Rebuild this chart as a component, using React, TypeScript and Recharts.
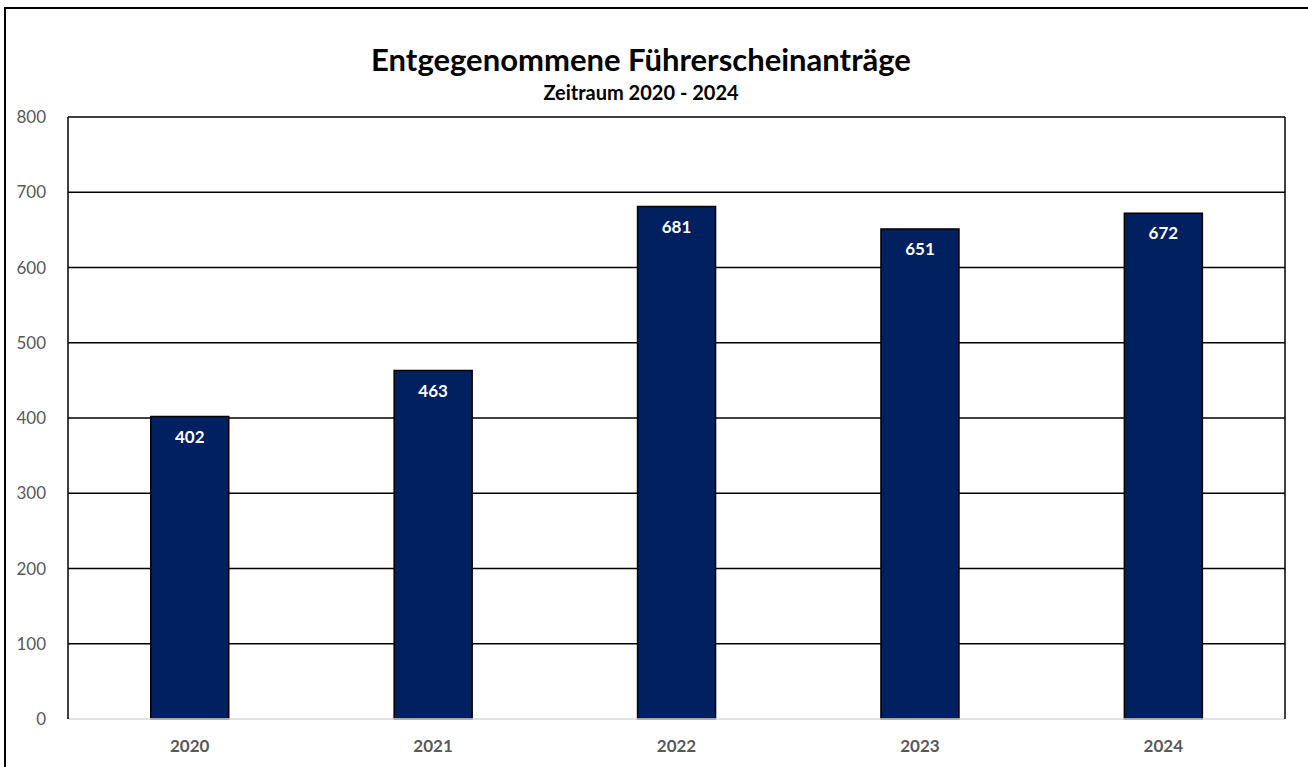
import { BarChart, Bar, XAxis, YAxis, CartesianGrid, LabelList } from 'recharts';

const years = ['2020', '2021', '2022', '2023', '2024'];
const applications = [402, 463, 681, 651, 672];
const yTicks = [0, 100, 200, 300, 400, 500, 600, 700, 800];
// gridlines above the baseline; the baseline itself is the grey x axis line
const gridValues = [100, 200, 300, 400, 500, 600, 700, 800];

const chartData = years.map((year, i) => ({ year, value: applications[i] }));

const FONT = 'Lato, "Open Sans", sans-serif';

export default function App() {
  return (
    <div
      style={{
        position: 'absolute',
        left: 0,
        top: 0,
        width: 1308,
        height: 767,
        overflow: 'hidden',
        background: '#fff',
        fontFamily: FONT,
      }}
    >
      {/* outer frame, clipped on the right and bottom like the original */}
      <div
        style={{
          position: 'absolute',
          left: 4,
          top: 7,
          width: 1340,
          height: 800,
          border: '2.5px solid #000',
          boxSizing: 'border-box',
        }}
      />
      <div
        style={{
          position: 'absolute',
          left: 0,
          width: 1282,
          top: 41,
          lineHeight: '36px',
          textAlign: 'center',
          fontWeight: 700,
          fontSize: 31,
          color: '#000',
        }}
      >
        Entgegenommene Führerscheinanträge
      </div>
      <div
        style={{
          position: 'absolute',
          left: 0,
          width: 1282,
          top: 80,
          lineHeight: '24px',
          textAlign: 'center',
          fontWeight: 700,
          fontSize: 20,
          color: '#000',
        }}
      >
        Zeitraum 2020 - 2024
      </div>
      <BarChart
        width={1308}
        height={767}
        data={chartData}
        margin={{ top: 117, right: 22, left: 0, bottom: 0 }}
        barCategoryGap="34%"
        style={{ position: 'absolute', left: 0, top: 0 }}
      >
        <CartesianGrid
          yAxisId="left"
          vertical={false}
          horizontalValues={gridValues}
          stroke="#000"
          strokeWidth={1.5}
        />
        <XAxis
          dataKey="year"
          height={48}
          axisLine={{ stroke: '#d9d9d9', strokeWidth: 1.5 }}
          tickLine={false}
          tickMargin={15}
          tick={{ fill: '#595959', fontSize: 17, fontWeight: 700, fontFamily: FONT }}
        />
        <YAxis
          yAxisId="left"
          width={68}
          domain={[0, 800]}
          ticks={yTicks}
          interval={0}
          axisLine={{ stroke: '#000', strokeWidth: 1.5 }}
          tickLine={false}
          tickMargin={16}
          tick={{ fill: '#595959', fontSize: 17, fontFamily: FONT }}
        />
        <YAxis
          yAxisId="right"
          orientation="right"
          width={1}
          domain={[0, 800]}
          ticks={yTicks}
          axisLine={{ stroke: '#000', strokeWidth: 1.5 }}
          tickLine={false}
          tick={false}
        />
        <Bar
          yAxisId="left"
          dataKey="value"
          fill="#002060"
          stroke="#000"
          strokeWidth={1.5}
          isAnimationActive={false}
        >
          <LabelList
            dataKey="value"
            position="insideTop"
            offset={14}
            fill="#fff"
            fontSize={17}
            fontWeight={700}
            fontFamily={FONT}
          />
        </Bar>
      </BarChart>
    </div>
  );
}
